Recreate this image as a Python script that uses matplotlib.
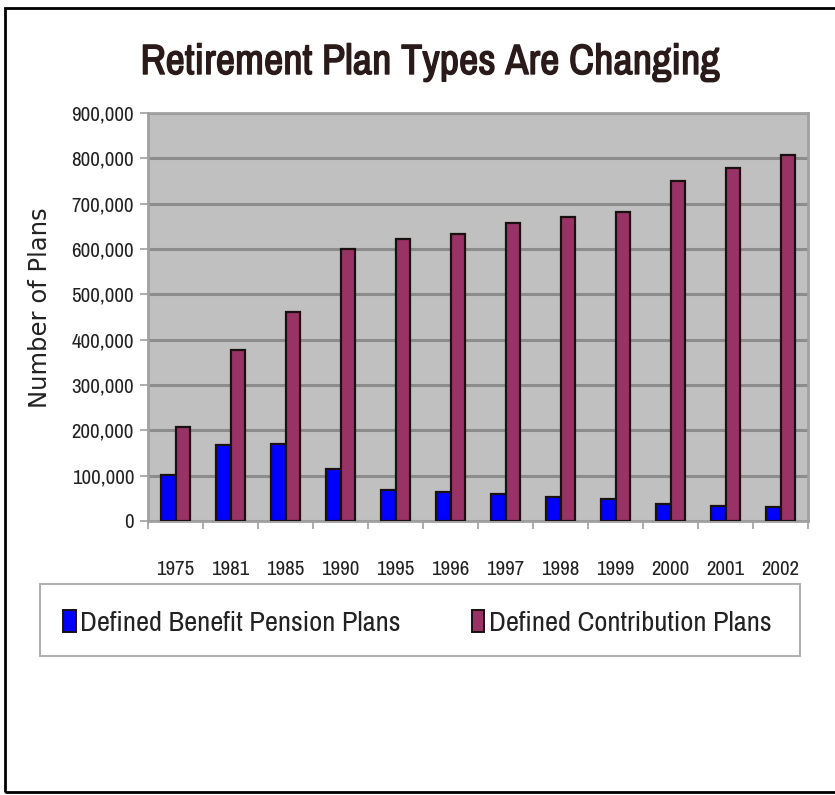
import matplotlib
matplotlib.use("Agg")
import matplotlib.pyplot as plt
import matplotlib.patheffects as pe
from matplotlib.patches import Rectangle, Patch
from matplotlib.ticker import FuncFormatter
import numpy as np

years = ["1975", "1981", "1985", "1990", "1995", "1996", "1997",
         "1998", "1999", "2000", "2001", "2002"]
defined_benefit = [101000, 168000, 170000, 115000, 68000, 63000, 59000,
                   53000, 48000, 38000, 33000, 31000]
defined_contribution = [208000, 378000, 462000, 599000, 623000, 632000, 657000,
                        671000, 681000, 749000, 778000, 808000]
series_names = ["Defined Benefit Pension Plans", "Defined Contribution Plans"]

narrow = ["Archivo Narrow", "Liberation Sans", "DejaVu Sans"]
plt.rcParams["font.family"] = narrow

W, H = 835, 795
fig = plt.figure(figsize=(W / 100, H / 100), dpi=100)

# outer border (right side is cropped in the original)
fig.patches.append(Rectangle((5 / W, 1 - 792 / H), 1.0, (792 - 8) / H,
                             transform=fig.transFigure, fill=False,
                             edgecolor="black", linewidth=2.0))

ax = fig.add_axes([148 / W, 1 - 521 / H, 660 / W, 408 / H])
ax.set_facecolor("#c0c0c0")

x = np.arange(len(years))
bw = 0.27
ax.bar(x - bw / 2, defined_benefit, bw, color="#0000ff", edgecolor="#1a1010",
       linewidth=1.6, zorder=3)
ax.bar(x + bw / 2, defined_contribution, bw, color="#993366", edgecolor="#1a1010",
       linewidth=1.6, zorder=3)

ax.set_xlim(-0.5, len(years) - 0.5)
ax.set_ylim(0, 900000)
ax.set_yticks(np.arange(0, 900001, 100000))
ax.yaxis.set_major_formatter(FuncFormatter(lambda v, p: f"{int(v):,}"))
ax.yaxis.grid(True, color="#8c8c8c", linewidth=2.2, zorder=1)
ax.set_axisbelow(True)

ax.set_xticks(np.arange(-0.5, len(years), 1.0))
ax.set_xticklabels([])
ax.set_xticks(x, minor=True)
ax.set_xticklabels(years, minor=True, fontsize=15, color="#222222")
ax.tick_params(axis="x", which="major", length=6, color="#a0a0a0", width=1.2)
ax.tick_params(axis="x", which="minor", length=0, pad=28)
ax.tick_params(axis="y", length=6, color="#a0a0a0", width=1.2, labelsize=15,
               labelcolor="#222222", pad=4)

for s in ax.spines.values():
    s.set_color("#a0a0a0")
    s.set_linewidth(2)

fig.text(40 / W, 1 - 308 / H, "Number of Plans", rotation=90, ha="center",
         va="center", fontsize=17.5, family=["DejaVu Sans"], color="#222222")

# narrow font has no bold face here, so thicken with a stroke
fig.text(430 / W, 1 - 62 / H, "Retirement Plan Types Are Changing",
         ha="center", va="center", fontsize=30.5, fontweight="bold",
         color="#2a1a1a",
         path_effects=[pe.withStroke(linewidth=1.0, foreground="#2a1a1a")])

# legend box
fig.patches.append(Rectangle((40 / W, 1 - 656 / H), 760 / W, 72 / H,
                             transform=fig.transFigure, facecolor="white",
                             edgecolor="#b0b0b0", linewidth=1.5))
handles = [Patch(facecolor="#0000ff", edgecolor="#1a1010", linewidth=1.4),
           Patch(facecolor="#993366", edgecolor="#1a1010", linewidth=1.4)]
fig.legend(handles, series_names, loc="center", bbox_to_anchor=(417 / W, 1 - 623 / H),
           ncol=2, frameon=False, fontsize=20.5, handlelength=0.45, handleheight=0.8,
           handletextpad=0.15, columnspacing=2.5, labelcolor="#222222")

fig.savefig("out.png", dpi=100)
